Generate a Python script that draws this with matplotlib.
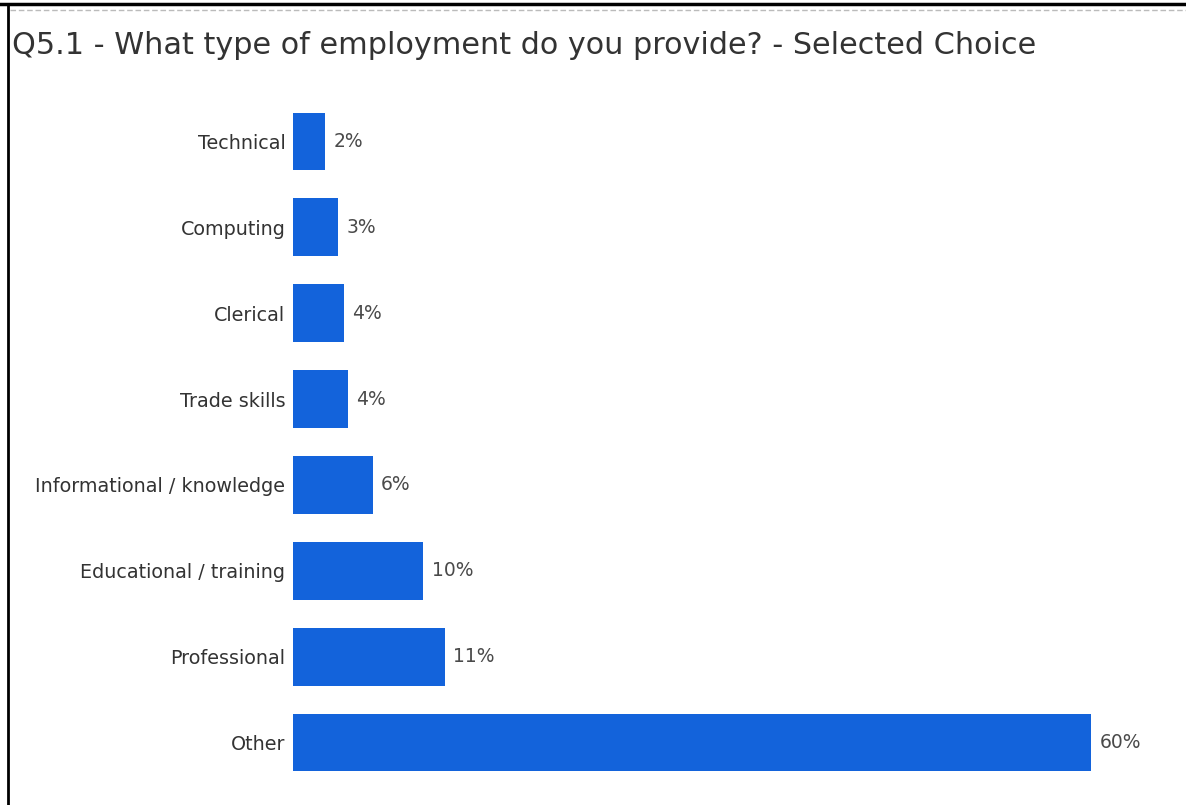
import matplotlib
matplotlib.use('Agg')
import matplotlib.pyplot as plt
from matplotlib.lines import Line2D

plt.rcParams['font.family'] = ['DejaVu Sans']

# Survey answers, share of respondents (%)
categories = ['Technical', 'Computing', 'Clerical', 'Trade skills',
              'Informational / knowledge', 'Educational / training',
              'Professional', 'Other']
shares = [2.4, 3.4, 3.8, 4.1, 6.0, 9.8, 11.4, 60.0]
title = 'Q5.1 - What type of employment do you provide? - Selected Choice'

W, H = 1186, 805
fig = plt.figure(figsize=(W/100, H/100), dpi=100)
fig.patch.set_facecolor('white')

# axes placed in pixel terms
x0, x1 = 293, 1091
y0, y1 = 98.6, 785.4
ax = fig.add_axes([x0/W, 1 - y1/H, (x1-x0)/W, (y1-y0)/H])

pos = range(len(categories))
ax.barh(pos, shares, height=0.675, color='#1363db', edgecolor='none')
ax.set_xlim(0, 60)
ax.set_ylim(len(categories) - 0.5, -0.5)

ax.set_yticks(list(pos))
ax.set_yticklabels(categories, fontsize=13.8, color='#333333')
ax.tick_params(axis='y', length=0, pad=5.5)
ax.set_xticks([])
for s in ax.spines.values():
    s.set_visible(False)

for i, v in enumerate(shares):
    ax.annotate(f'{v:.0f}%', (v, i), xytext=(6, 0), textcoords='offset points',
                va='center', ha='left', fontsize=13.5, color='#4a4a4a',
                annotation_clip=False)

fig.text(12/W, 1 - 45/H, title, fontsize=21.8, color='#333333',
         va='center', ha='left')

# frame: thick top rule, left edge and dashed separator
fig.add_artist(Line2D([0, 1], [1 - 4/H, 1 - 4/H], color='black', lw=2.5,
                      transform=fig.transFigure))
fig.add_artist(Line2D([8/W, 8/W], [0, 1 - 4/H], color='black', lw=2,
                      transform=fig.transFigure))
fig.add_artist(Line2D([10/W, 1], [1 - 10/H, 1 - 10/H], color='#bbbbbb', lw=1,
                      ls=(0, (4, 2)), transform=fig.transFigure))

fig.savefig('out.png', dpi=100)
